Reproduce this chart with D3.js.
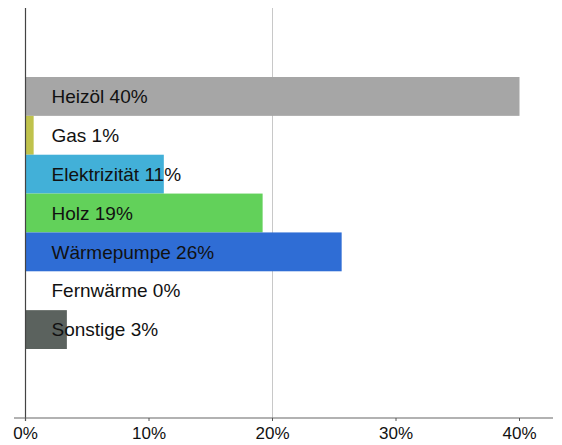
<!DOCTYPE html>
<html><head><meta charset="utf-8">
<script src="https://cdn.jsdelivr.net/npm/d3@7"></script>
<style>body{margin:0;background:#fff}svg{display:block}</style>
</head><body><svg id="c" width="562" height="445" font-family="Liberation Sans, Arial, sans-serif"></svg>
<script>
const categories = ["Heizöl","Gas","Elektrizität","Holz","Wärmepumpe","Fernwärme","Sonstige"];
const values = [40.0, 0.66, 11.2, 19.2, 25.6, 0, 3.35];
const labels = ["Heizöl 40%","Gas 1%","Elektrizität 11%","Holz 19%","Wärmepumpe 26%","Fernwärme 0%","Sonstige 3%"];
const colors = ["#a6a6a6","#bfc24c","#42b0d8","#62d15a","#2f6dd5","#ffffff","#5b625e"];
const ticks = [0,10,20,30,40];
const tickLabels = ["0%","10%","20%","30%","40%"];
const gridTicks = [20];

const svg = d3.select("#c");
const x = d3.scaleLinear().domain([0,40]).range([25.5,519.5]);
const y = d3.scaleBand().domain(categories).range([77,349]).padding(0);

svg.selectAll("line.grid").data(gridTicks).join("line")
  .attr("x1",d=>x(d)).attr("x2",d=>x(d)).attr("y1",8).attr("y2",418)
  .attr("stroke","#c8c8c8").attr("stroke-width",1);

svg.selectAll("rect.bar").data(categories).join("rect")
  .attr("x",x(0)).attr("y",d=>y(d))
  .attr("width",(d,i)=>x(values[i])-x(0))
  .attr("height",y.bandwidth())
  .attr("fill",(d,i)=>colors[i]);

svg.selectAll("text.lab").data(categories).join("text")
  .attr("x",51.5).attr("y",d=>y(d)+y.bandwidth()/2)
  .attr("dy","0.35em").attr("font-size",19).attr("fill","#111")
  .text((d,i)=>labels[i]);

// axes
svg.append("line").attr("x1",25.5).attr("x2",25.5).attr("y1",8).attr("y2",421)
  .attr("stroke","#444").attr("stroke-width",1.2);
svg.append("line").attr("x1",14).attr("x2",553).attr("y1",418).attr("y2",418)
  .attr("stroke","#666").attr("stroke-width",1.2);
svg.selectAll("line.tk").data(ticks).join("line")
  .attr("x1",d=>x(d)).attr("x2",d=>x(d)).attr("y1",418).attr("y2",421)
  .attr("stroke","#555").attr("stroke-width",1);

svg.selectAll("text.tick").data(ticks).join("text")
  .attr("x",d=>x(d)).attr("y",438.5)
  .attr("text-anchor","middle")
  .attr("font-size",17).attr("fill","#111")
  .text((d,i)=>tickLabels[i]);
</script></body></html>
